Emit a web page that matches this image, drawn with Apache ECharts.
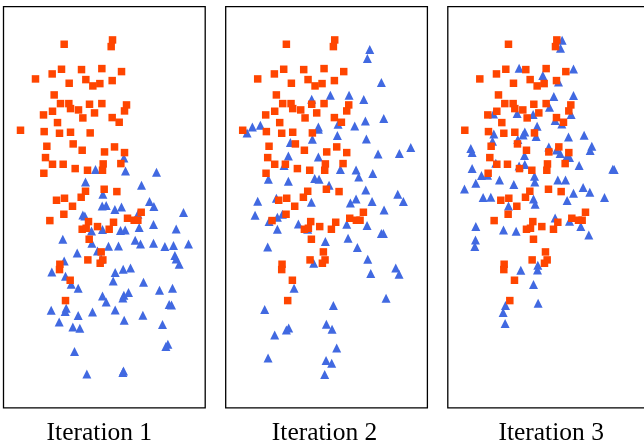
<!DOCTYPE html>
<html><head><meta charset="utf-8">
<style>html,body{margin:0;padding:0;background:#fff;overflow:hidden}#c{width:644px;height:445px}</style>
<script src="https://cdn.jsdelivr.net/npm/echarts@6/dist/echarts.min.js"></script>
</head><body><div id="c"></div>
<script>
const titles = ["Iteration 1","Iteration 2","Iteration 3"];
const orange = [[182,133],[327,120],[323,140],[174,208],[146,222],[234,209],[295,206],[354,215],[96,237],[197,250],[247,239],[268,258],[289,251],[326,242],[152,285],[171,311],[196,311],[201,326],[225,330],[258,313],[295,311],[369,315],[363,333],[147,334],[120,345],[273,339],[238,354],[326,353],[347,367],[162,368],[51,391],[122,395],[168,400],[201,397],[260,399],[130,439],[209,432],[236,451],[333,441],[303,456],[363,458],[126,473],[147,493],[179,493],[299,492],[352,491],[215,506],[252,511],[297,511],[121,520],[302,568],[340,575],[246,574],[233,592],[183,595],[159,601],[207,619],[413,637],[181,643],[139,662],[255,665],[330,667],[372,655],[392,661],[403,661],[282,680],[236,688],[248,685],[317,688],[257,718],[293,756],[253,780],[298,780],[290,790],[169,793],[168,809],[200,841],[186,902]];
const blue1 = [[361,474],[276,509],[366,513],[459,517],[246,546],[414,556],[298,583],[438,605],[296,618],[308,617],[354,621],[451,620],[334,629],[540,638],[238,645],[244,648],[403,643],[264,693],[297,689],[351,692],[365,690],[407,683],[450,674],[518,687],[178,718],[395,721],[411,732],[450,730],[484,740],[510,737],[555,732],[265,730],[315,739],[345,738],[221,759],[282,753],[514,767],[518,777],[527,793],[182,783],[145,816],[293,778],[359,808],[381,804],[335,818],[186,829],[329,843],[420,847],[203,853],[224,865],[507,865],[468,871],[375,878],[361,886],[358,894],[297,888],[308,906],[497,914],[504,915],[143,931],[188,925],[185,935],[335,930],[267,936],[224,947],[418,946],[362,961],[167,966],[477,974],[208,981],[229,985],[493,1033],[487,1040],[213,1055],[250,1122],[360,1113],[358,1118]];
const blue2 = [[432,149],[425,176],[467,248],[258,298],[314,286],[370,286],[414,299],[474,356],[419,363],[80,381],[104,376],[64,399],[278,381],[278,388],[337,373],[387,378],[335,407],[260,418],[422,417],[194,428],[555,443],[457,462],[521,461],[188,468],[278,471],[175,497],[344,509],[391,510],[441,521],[399,531],[128,538],[188,544],[267,536],[280,538],[310,556],[420,570],[516,583],[96,604],[152,595],[257,607],[374,609],[391,597],[439,605],[533,605],[475,630],[88,646],[170,643],[155,652],[130,665],[218,672],[363,673],[424,677],[155,688],[246,688],[467,701],[473,701],[367,715],[299,725],[126,741],[395,743],[426,778],[264,790],[510,804],[520,823],[435,821],[205,865],[481,895],[323,917],[117,929],[302,973],[189,984],[182,990],[319,988],[147,1005],[333,1044],[127,1074],[301,1082],[318,1090],[297,1124]];
const blue3 = [[343,121],[338,145],[214,205],[377,207],[285,227],[332,246],[318,290],[377,287],[305,322],[208,341],[137,342],[256,344],[370,344],[322,362],[342,372],[268,379],[231,396],[226,405],[138,402],[265,410],[362,411],[409,406],[210,419],[134,424],[69,446],[73,458],[303,441],[326,450],[432,439],[427,452],[337,461],[230,467],[357,470],[365,473],[144,490],[231,494],[214,498],[73,506],[394,497],[495,508],[499,509],[101,527],[119,526],[260,529],[155,540],[261,546],[330,540],[353,540],[84,550],[198,554],[50,567],[406,563],[426,577],[377,580],[106,593],[129,592],[470,593],[358,602],[257,597],[262,613],[182,618],[322,654],[84,680],[167,690],[205,694],[365,664],[399,680],[423,705],[83,720],[81,740],[270,796],[269,810],[219,811],[257,854],[271,910],[173,917],[166,938],[172,971]];
const blues = [blue1, blue2, blue3];
const lefts = [3.5, 225.7, 447.8];
const namePads = [[0,10,0,0],[0,4,0,0],[0,0,0,5]];

const chart = echarts.init(document.getElementById('c'));
chart.setOption({
  animation:false,
  backgroundColor:'#fff',
  grid: lefts.map(l=>({left:l,top:6.6,width:201.7,height:401.3,outerBoundsMode:'none',containLabel:false,show:true,backgroundColor:'#fff',borderColor:'#000',borderWidth:1.3})),
  xAxis: lefts.map((l,i)=>({type:'value',gridIndex:i,min:0,max:605,
    axisLine:{show:false},axisTick:{show:false},axisLabel:{show:false},splitLine:{show:false},
    name:titles[i],nameLocation:'middle',nameGap:12,
    nameTextStyle:{fontFamily:'Liberation Serif',fontSize:25.5,color:'#000',padding:namePads[i]}})),
  yAxis: lefts.map((l,i)=>({type:'value',gridIndex:i,min:20,max:1224,inverse:true,
    axisLine:{show:false},axisTick:{show:false},axisLabel:{show:false},splitLine:{show:false}})),
  series: lefts.flatMap((l,i)=>[
    {type:'scatter',xAxisIndex:i,yAxisIndex:i,data:blues[i],symbol:'triangle',symbolSize:9,
     itemStyle:{color:'#4169E1',opacity:1},z:2,silent:true},
    {type:'scatter',xAxisIndex:i,yAxisIndex:i,data:orange,symbol:'rect',symbolSize:7.5,
     itemStyle:{color:'#FF4500',opacity:1},z:3,silent:true}
  ])
});
</script></body></html>
